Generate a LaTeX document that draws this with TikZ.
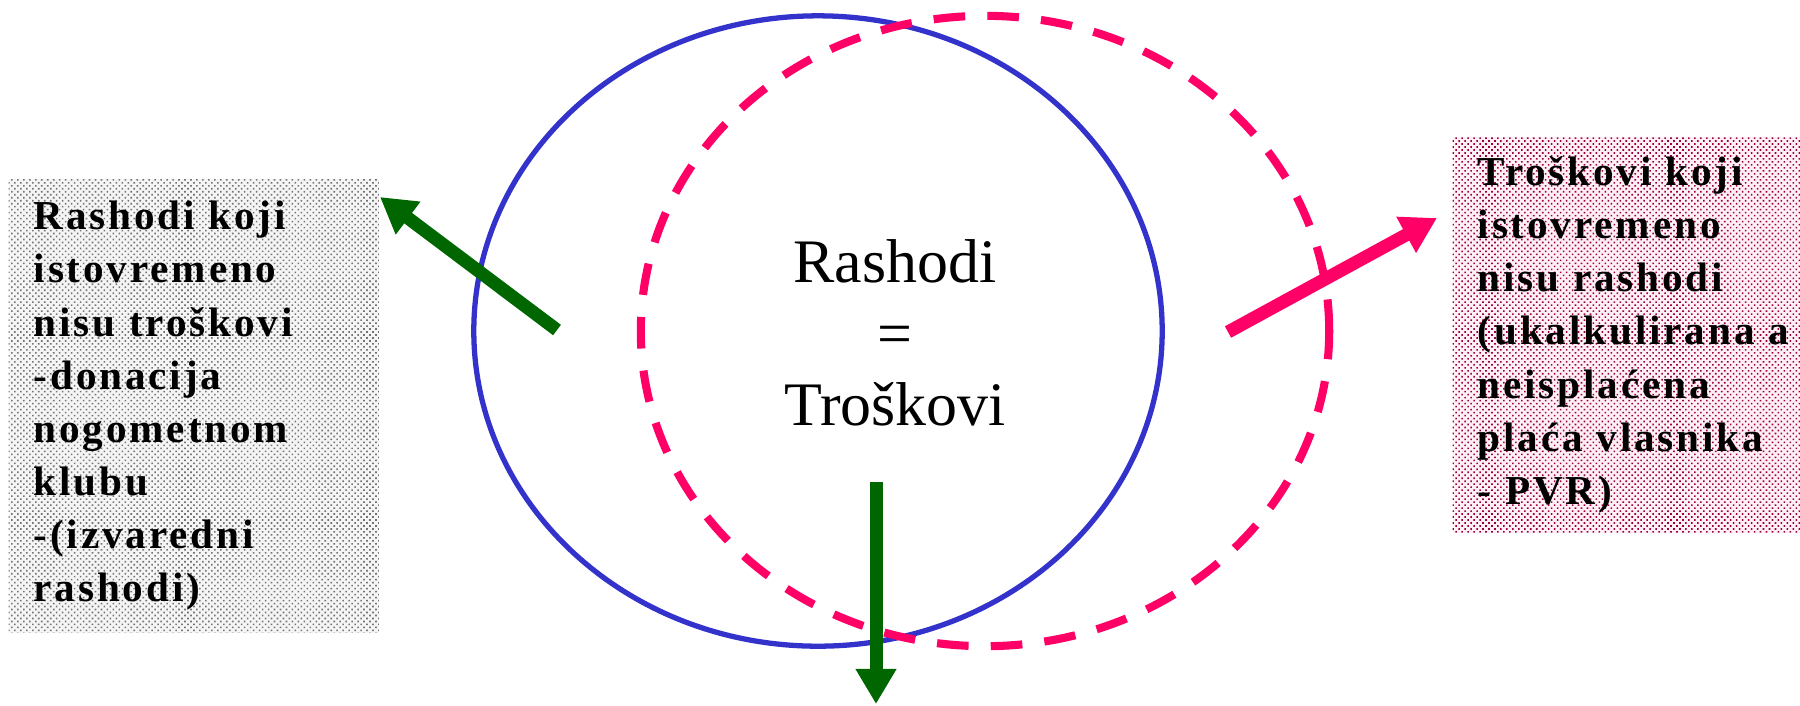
\documentclass[tikz,border=0pt]{standalone}
\usepackage{fontspec}
\setmainfont{Liberation Serif}
\newfontfamily\boxfont{Liberation Serif}[LetterSpace=7]
\usepackage{xcolor}
\usetikzlibrary{shapes.geometric, arrows.meta, positioning, patterns.meta}

\definecolor{rashblue}{HTML}{3333CC}
\definecolor{troskpink}{HTML}{FF0066}
\definecolor{strgreen}{HTML}{006600}

\begin{document}
\begin{tikzpicture}[x=0.01cm, y=-0.01cm,
  oval/.style={draw, ellipse, inner sep=0pt, minimum width=6.88cm, minimum height=6.3cm},
  opis/.style={anchor=north west, inner xsep=0.25cm, inner ysep=0pt, align=left,
    font=\boxfont\bfseries\fontsize{11.7}{15.1}\selectfont},
  strelica/.style={line width=3.7pt, -{Triangle[length=10pt, width=11pt]}}]
\useasboundingbox (0,0) rectangle (1800,705);

\node[oval, rashblue, line width=1.5pt] (rashodi) at (818,331) {};
\node[oval, troskpink, line width=2.3pt, dash pattern=on 9pt off 6.3pt] (troskovi) at (985,331) {};

\node[align=center, font=\fontsize{17.6}{20.3}\selectfont] (jednako) at (895,333) {Rashodi\\=\\Troškovi};

\node[opis, text width=3.2cm, minimum height=4.54cm, preaction={fill=black!4},
  pattern={Dots[distance=1.2pt, radius=0.32pt, angle=45]}, pattern color=black!55] (lijevo) at (8,178)
  {Rashodi koji\\istovremeno\\nisu troškovi\\-donacija\\nogometnom\\klubu\\-(izvaredni\\rashodi)};
\node[opis, text width=3.3cm, minimum height=3.96cm, preaction={fill=troskpink!6},
  pattern={Dots[distance=1.2pt, radius=0.32pt, angle=45]}, pattern color=troskpink!60!black] (desno) at (1452,136)
  {Troškovi koji\\istovremeno\\nisu rashodi\\(ukalkulirana a\\neisplaćena\\plaća vlasnika\\- PVR)};

\coordinate (l1) at (557,330);
\coordinate (l2) at (380,197);
\coordinate (d1) at (876,482);
\coordinate (d2) at (876,704);
\coordinate (r1) at (1228,332);
\coordinate (r2) at (1437,218);

\draw[strelica, strgreen] (l1) -- (l2);
\draw[strelica, strgreen] (d1) -- (d2);
\draw[strelica, troskpink] (r1) -- (r2);
\end{tikzpicture}
\end{document}
